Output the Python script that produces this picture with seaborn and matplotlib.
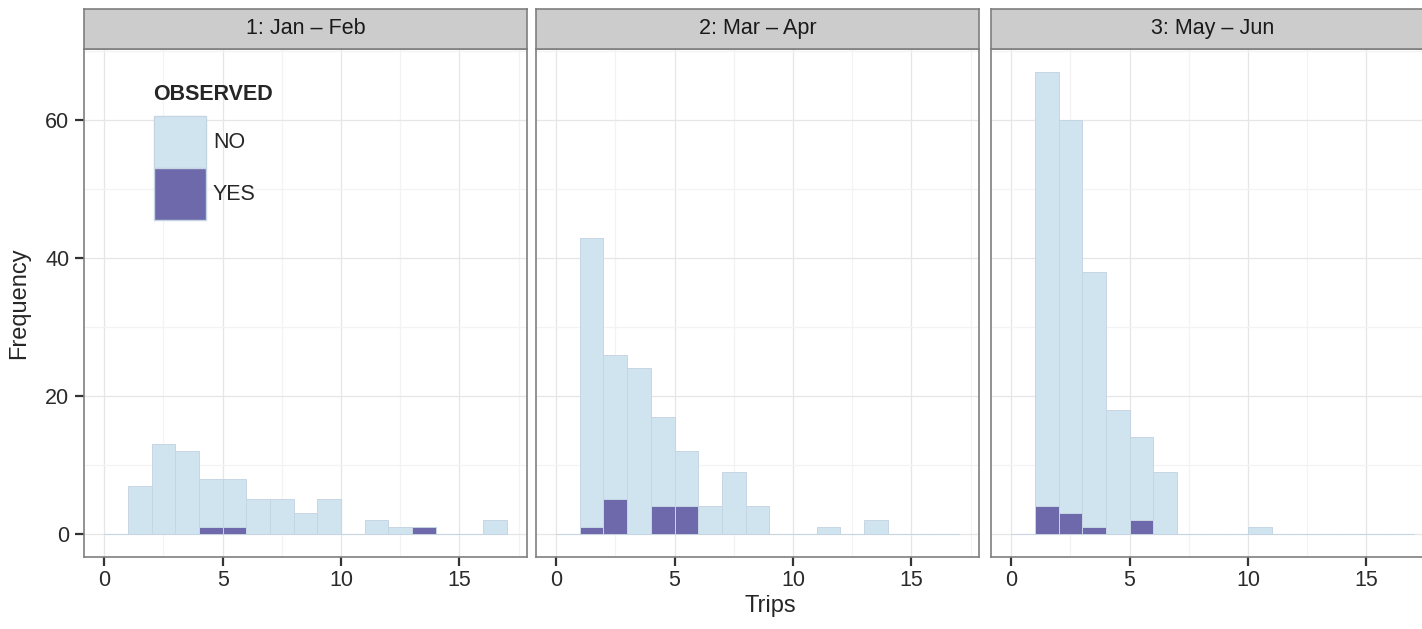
import numpy as np
import pandas as pd
import matplotlib
matplotlib.use("Agg")
import matplotlib.pyplot as plt
from matplotlib.patches import Patch
import seaborn as sns

sns.set_style("white")
plt.rcParams['font.family'] = ['Liberation Sans', 'DejaVu Sans']

# ---------------------------------------------------------------
# datos: conteos por numero de viajes (bin [k, k+1))
# ---------------------------------------------------------------
trips = list(range(17))
periods = ["1: Jan \u2013 Feb", "2: Mar \u2013 Apr", "3: May \u2013 Jun"]

no_jan_feb = [0, 7, 13, 12, 7, 7, 5, 5, 3, 5, 0, 2, 1, 0, 0, 0, 2]
yes_jan_feb = [0, 0, 0, 0, 1, 1, 0, 0, 0, 0, 0, 0, 0, 1, 0, 0, 0]

no_mar_apr = [0, 42, 21, 24, 13, 8, 4, 9, 4, 0, 0, 1, 0, 2, 0, 0, 0]
yes_mar_apr = [0, 1, 5, 0, 4, 4, 0, 0, 0, 0, 0, 0, 0, 0, 0, 0, 0]

no_may_jun = [0, 63, 57, 37, 18, 12, 9, 0, 0, 0, 1, 0, 0, 0, 0, 0, 0]
yes_may_jun = [0, 4, 3, 1, 0, 2, 0, 0, 0, 0, 0, 0, 0, 0, 0, 0, 0]

x_ticks = [0, 5, 10, 15]
y_ticks = [0, 20, 40, 60]

col_no = '#d0e4ef'
col_yes = '#6d69aa'

#%%
rows = []
for per, no_c, yes_c in zip(periods, [no_jan_feb, no_mar_apr, no_may_jun],
                            [yes_jan_feb, yes_mar_apr, yes_may_jun]):
    for t, n, y in zip(trips, no_c, yes_c):
        rows.append({'period': per, 'trips': t, 'OBSERVED': 'NO', 'count': n})
        rows.append({'period': per, 'trips': t, 'OBSERVED': 'YES', 'count': y})
df = pd.DataFrame(rows)

#%%
fig = plt.figure(figsize=(14.22, 6.29), dpi=100)

lefts = [0.0591, 0.3769, 0.6969]
width = 0.3115
bottom = 0.1145
height = 0.8076
strip_h = 0.0636
fs = 15.5

axes = []
for i, per in enumerate(periods):
    ax = fig.add_axes([lefts[i], bottom, width, height])
    sub = df[df['period'] == per]
    sns.histplot(data=sub, x='trips', weights='count', hue='OBSERVED',
                 hue_order=['NO', 'YES'], multiple='stack', binwidth=1,
                 binrange=(0, 17), palette={'NO': col_no, 'YES': col_yes},
                 alpha=1, edgecolor='#c6d5e4', linewidth=0.7,
                 legend=False, ax=ax)

    ax.set_xlim(-0.85, 17.85)
    ax.set_ylim(-3.35, 70.35)
    ax.set_xticks(x_ticks)
    ax.set_yticks(y_ticks)
    ax.set_xticks([2.5, 7.5, 12.5, 17.5], minor=True)
    ax.set_yticks([10, 30, 50, 70], minor=True)
    ax.grid(which='major', color='#e6e6e6', linewidth=0.9)
    ax.grid(which='minor', color='#f3f3f3', linewidth=0.9)
    ax.set_axisbelow(True)
    ax.tick_params(which='minor', length=0)
    ax.tick_params(which='major', direction='out', length=6.5, width=1.6,
                   color='#333333', labelsize=fs, labelcolor='#2a2a2a')
    ax.tick_params(axis='x', bottom=True, pad=3)
    if i == 0:
        ax.tick_params(axis='y', left=True, pad=4)
        ax.set_ylabel('Frequency', fontsize=17, labelpad=11)
    else:
        ax.tick_params(axis='y', left=False, labelleft=False)
        ax.set_ylabel('')
    ax.set_xlabel('')
    for s in ax.spines.values():
        s.set_color('#7f7f7f')
        s.set_linewidth(1.2)

    # strip del facet
    sax = fig.add_axes([lefts[i], bottom + height, width, strip_h])
    sax.set_facecolor('#cccccc')
    sax.set_xticks([])
    sax.set_yticks([])
    for s in sax.spines.values():
        s.set_color('#7f7f7f')
        s.set_linewidth(1.2)
    sax.text(0.5, 0.5, per, ha='center', va='center', fontsize=fs,
             color='#1a1a1a', transform=sax.transAxes)
    axes.append(ax)

fig.text(0.542, 0.036, 'Trips', ha='center', va='center', fontsize=17)

# leyenda dentro del primer panel
handles = [Patch(facecolor=col_no, edgecolor='#c6d5e4'),
           Patch(facecolor=col_yes, edgecolor='#c6d5e4')]
leg = axes[0].legend(handles=handles, labels=['NO', 'YES'], title='OBSERVED',
                     loc='upper left', bbox_to_anchor=(0.157, 0.932),
                     frameon=False, fontsize=fs, handlelength=2.45,
                     handleheight=3.34, labelspacing=0, handletextpad=0.3,
                     borderpad=0, borderaxespad=0,
                     title_fontproperties={'weight': 'bold', 'size': fs})
leg._legend_box.align = 'left'
leg._legend_box.sep = 8

plt.savefig('out.png', dpi=100)
